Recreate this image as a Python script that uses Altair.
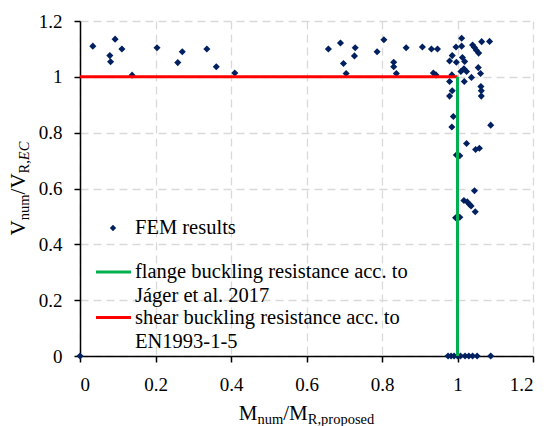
import altair as alt
import pandas as pd

# ---------------- data ----------------
fem_x = [0.034, 0.093, 0.079, 0.081, 0.111, 0.138, 0.204, 0.259, 0.271, 0.336, 0.361, 0.410,
         0.658, 0.690, 0.729, 0.727, 0.698, 0.705, 0.805, 0.787, 0.831, 0.831, 0.838, 0.864,
         0.907, 0.931, 0.947, 0.936, 0.943,
         0.979, 0.986, 0.997, 0.996, 1.011, 1.011, 1.013, 1.019, 1.009, 1.017, 1.024, 0.985,
         0.979, 1.018, 1.037, 1.040, 1.045, 1.050, 1.056, 1.064, 1.085, 1.055, 1.061, 1.062,
         1.063, 1.063, 0.986, 0.979, 0.989,
         0.985, 1.088, 1.024, 1.048, 1.058, 0.997, 1.006, 1.045, 1.017, 1.026, 1.032, 1.036,
         1.047, 0.995, 1.006,
         0.0, 0.975, 0.983, 0.991, 1.000, 1.008, 1.020, 1.030, 1.040, 1.052, 1.088]
fem_y = [1.110, 1.135, 1.076, 1.054, 1.100, 1.006, 1.104, 1.051, 1.090, 1.100, 1.036, 1.014,
         1.100, 1.121, 1.104, 1.075, 1.048, 1.012, 1.133, 1.090, 1.052, 1.036, 1.012, 1.104,
         1.107, 1.100, 1.100, 1.014, 1.007,
         1.057, 1.076, 1.052, 1.107, 1.110, 1.138, 1.069, 1.055, 1.019, 1.029, 1.019, 1.007,
         0.983, 0.983, 0.998, 1.114, 1.105, 1.095, 1.085, 1.126, 1.127, 1.033, 1.012, 0.965,
         0.950, 0.931, 0.950, 0.931, 0.858,
         0.820, 0.827, 0.761, 0.740, 0.744, 0.720, 0.717, 0.592, 0.557, 0.552, 0.543, 0.537,
         0.517, 0.495, 0.497,
         0.0, 0.0, 0.0, 0.0, 0.0, 0.0, 0.0, 0.0, 0.0, 0.0, 0.0]

shear_x = [0, 1]      # shear buckling resistance (horizontal, V = 1)
shear_y = [1]
flange_x = [1]        # flange buckling resistance (vertical, M = 1)
flange_y = [0, 1]

x_ticks = [0, 0.2, 0.4, 0.6, 0.8, 1, 1.2]
y_ticks = [0, 0.2, 0.4, 0.6, 0.8, 1, 1.2]

legend_labels = ["FEM results",
                 ["flange buckling resistance acc. to", "Jáger et al. 2017"],
                 ["shear buckling resistance acc. to", "EN1993-1-5"]]

# ---------------- style ----------------
W, H = 453, 335
FONT = "Liberation Serif"
NAVY = "#002060"
GREEN = "#00B050"
RED = "#FF0000"

REG = {'M': 889, 'n': 500, 'u': 500, 'm': 778, '/': 278, 'R': 667, ',': 250, 'p': 500,
       'r': 333, 'o': 500, 's': 389, 'e': 444, 'd': 500, 'V': 722, 'E': 611, 'C': 667}


def tw(s, size):
    return sum(REG.get(c, 500) for c in s) * size / 1000.0


one = alt.Data(values=[{}])


def txt(s, x, y, size, angle=0, italic=False, align="left", baseline="alphabetic"):
    kw = dict(text=s, font=FONT, fontSize=size, align=align, baseline=baseline,
              color="black", fontStyle="italic" if italic else "normal")
    if angle:
        kw["angle"] = angle
    return alt.Chart(one).mark_text(**kw).encode(x=alt.value(x), y=alt.value(y))


xs = alt.Scale(domain=[0, 1.2], nice=False, zero=False)
ys = alt.Scale(domain=[0, 1.2], nice=False, zero=False)

ax_style = dict(format="~g", title=None, grid=True, gridDash=[8, 5], gridColor="#d9d9d9",
                gridWidth=1.3, domainColor="black", domainWidth=1.5, tickColor="black",
                tickSize=6, tickWidth=1.5, labelFont=FONT, labelFontSize=19, labelColor="black")
x_axis = alt.Axis(values=x_ticks, labelPadding=13, **ax_style)
y_axis = alt.Axis(values=y_ticks, labelPadding=12, **ax_style)

df = pd.DataFrame({"x": fem_x, "y": fem_y})

points = alt.Chart(df).mark_point(shape="diamond", filled=True, size=50, color=NAVY, opacity=1).encode(
    x=alt.X("x:Q", scale=xs, axis=x_axis),
    y=alt.Y("y:Q", scale=ys, axis=y_axis),
)

shear_df = pd.DataFrame({"x": [shear_x[0]], "x2": [shear_x[1]], "y": shear_y})
shear = alt.Chart(shear_df).mark_rule(color=RED, strokeWidth=3).encode(
    x=alt.X("x:Q", scale=xs, axis=x_axis), x2="x2:Q", y=alt.Y("y:Q", scale=ys, axis=y_axis))

flange_df = pd.DataFrame({"x": flange_x, "y": [flange_y[0]], "y2": [flange_y[1]]})
flange = alt.Chart(flange_df).mark_rule(color=GREEN, strokeWidth=3).encode(
    x=alt.X("x:Q", scale=xs, axis=x_axis), y=alt.Y("y:Q", scale=ys, axis=y_axis), y2="y2:Q")

# ---------------- legend (drawn) ----------------
LF = 20.5
leg = [
    alt.Chart(one).mark_point(shape="diamond", filled=True, size=40, color=NAVY, opacity=1).encode(
        x=alt.value(33), y=alt.value(207)),
    txt(legend_labels[0], 55, 207, LF, baseline="middle"),
    alt.Chart(one).mark_rule(color=GREEN, strokeWidth=3).encode(
        x=alt.value(16), x2=alt.value(51), y=alt.value(251)),
    txt(legend_labels[1][0], 55, 250.5, LF, baseline="middle"),
    txt(legend_labels[1][1], 55, 274.5, LF, baseline="middle"),
    alt.Chart(one).mark_rule(color=RED, strokeWidth=3).encode(
        x=alt.value(16), x2=alt.value(51), y=alt.value(296.5)),
    txt(legend_labels[2][0], 55, 296.5, LF, baseline="middle"),
    txt(legend_labels[2][1], 55, 320.5, LF, baseline="middle"),
]

# ---------------- axis titles with subscripts ----------------
TF, SF = 21, 14.5
titles = []
xt = [("M", TF, False, 0), ("num", SF, False, 4), ("/M", TF, False, 0), ("R,proposed", SF, False, 4)]
total = sum(tw(s, f) for s, f, _, _ in xt)
cx = W / 2 - total / 2
for s, f, it, dy in xt:
    titles.append(txt(s, cx, 399 + dy, f, italic=it))
    cx += tw(s, f)

yt = [("V", TF, False, 0), ("num", SF, False, 4), ("/V", TF, False, 0), ("R,", SF, False, 4),
      ("EC", SF, True, 4)]
total = sum(tw(s, f) for s, f, _, _ in yt)
cy = H / 2 + total / 2
for s, f, it, dx in yt:
    titles.append(txt(s, -55 + dx, cy, f, angle=270, italic=it))
    cy -= tw(s, f)

chart = alt.layer(points, shear, flange, *leg, *titles).properties(
    width=W, height=H,
    padding={"left": 80, "top": 21, "right": 13, "bottom": 70},
    autosize=alt.AutoSizeParams(type="none"),
    background="white",
).configure_view(stroke=None)

chart.save("out.html", embed_options={"renderer": "svg", "actions": False})
